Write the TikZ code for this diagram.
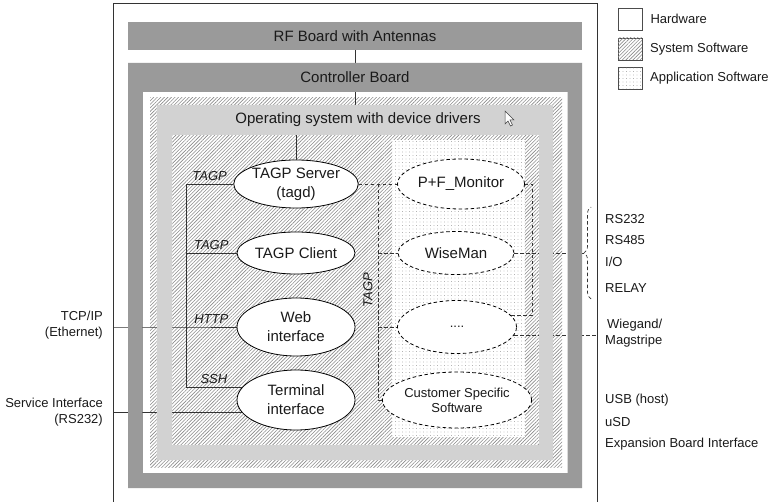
\documentclass[tikz,border=0pt]{standalone}
\usepackage{fontspec}
\setmainfont{Liberation Sans}
\usetikzlibrary{positioning,calc,shapes.geometric,patterns.meta,decorations.pathreplacing}
\definecolor{boardgray}{HTML}{9A9A9A}
\definecolor{osgray}{HTML}{D2D2D2}
\definecolor{hatchgray}{HTML}{8C8C8C}
\definecolor{dotgray}{HTML}{8A8A8A}
\definecolor{inkgray}{HTML}{1A1A1A}
\tikzset{
  board/.style={rectangle, fill=boardgray, inner sep=0pt, outer sep=0pt},
  syssw/.style={rectangle, fill=white, inner sep=0pt, outer sep=0pt,
                postaction={pattern={Lines[angle=45, distance=2.5pt, line width=0.6pt]}, pattern color=hatchgray}},
  appsw/.style={rectangle, fill=white, inner sep=0pt, outer sep=0pt,
                postaction={pattern={Dots[distance=3.5pt, radius=0.45pt]}, pattern color=dotgray}},
  bandtitle/.style={font=\fontsize{15}{17}\selectfont, text=inkgray, inner sep=0pt, outer sep=0pt},
  hwproc/.style={ellipse, draw=black, line width=0.8pt, fill=white, minimum width=118pt,
                 inner sep=0pt, align=center, text=inkgray, font=\fontsize{15}{19}\selectfont},
  approc/.style={hwproc, dash pattern=on 3.5pt off 2.5pt},
  link/.style={draw=black!80, line width=0.7pt},
  dlink/.style={link, dash pattern=on 3.5pt off 2.5pt},
  proto/.style={font=\fontsize{13}{15}\selectfont\itshape, text=inkgray},
  iface/.style={font=\fontsize{13}{16}\selectfont, text=inkgray, inner sep=0pt, anchor=west},
  legbox/.style={draw=black!70, line width=0.6pt, minimum width=24pt, minimum height=22pt},
}

\begin{document}
\begin{tikzpicture}[x=1pt,y=-1pt]
\useasboundingbox (0,0) rectangle (770,502);
\coordinate (lft) at (113,3);
\coordinate (rgt) at (597,3);
\draw[link] (113,502) -- (lft) -- (rgt) -- (597,502);

\node[board, bandtitle, minimum width=454pt, minimum height=28pt] (rf) at (355,36) {RF Board with Antennas};
\node[board, minimum width=454pt, minimum height=425pt] (ctrl) at (355,275.5) {};
\node[rectangle, fill=white, inner sep=0pt, minimum width=425pt, minimum height=381pt] (hw) at (355,282.5) {};
\node[syssw, minimum width=412pt, minimum height=369pt] (sys) at (356,282.5) {};
\node[rectangle, fill=osgray, inner sep=0pt, minimum width=396pt, minimum height=355pt] (os) at (355,282.5) {};
\node[syssw, minimum width=367pt, minimum height=310pt] (drv) at (355.5,290) {};
\node[appsw, minimum width=133pt, minimum height=297pt] (app) at (458.5,288.5) {};

\draw[link] (rf.south) -- (ctrl.north);
\draw[link] (hw.north) -- (os.north);

\coordinate (lbus) at (186,0);
\coordinate (abus) at (378,0);
\coordinate (rbus) at (532,0);
\coordinate (brtip) at (584,253);

\node[hwproc, minimum height=48pt] (srv) at (296,184) {TAGP Server\\(tagd)};
\node[hwproc, minimum height=42pt] (cli) at (296,253) {TAGP Client};
\node[hwproc, minimum height=58pt] (web) at (296,327) {Web\\interface};
\node[hwproc, minimum height=60pt] (term) at (296,400) {Terminal\\interface};
\node[approc, minimum width=127pt, minimum height=50pt] (pf) at (461,184) {P+F\_Monitor};
\node[approc, minimum width=116pt, minimum height=43pt] (wise) at (456,253) {WiseMan};
\node[approc, minimum width=119pt, minimum height=53pt, font=\fontsize{13}{15}\selectfont] (dots) at (457,327) {....};
\node[approc, minimum width=119pt, minimum height=56pt, font=\fontsize{13}{15}\selectfont] (cust) at (457,400) {Customer Specific\\Software};

\draw[link] (srv.north |- drv.north) -- (srv.north);
\draw[link] (srv.west) -- node[proto, above]{TAGP} (srv.west -| lbus) -- (term.167 -| lbus)
  -- node[proto, above]{SSH} (term.167);
\draw[link] (cli.west) -- node[proto, above]{TAGP} (cli.west -| lbus);
\draw[link] (web.west -| lft) -- (web.west -| lbus) -- node[proto, above]{HTTP} (web.west);
\draw[link] (term.193 -| lft) -- (term.193);

\draw[dlink] (srv.east) -- (pf.west);
\draw[dlink] (srv.east -| abus) -- (cust.west -| abus) -- (cust.west);
\draw[dlink] (wise.west -| abus) -- (wise.west);
\draw[dlink] (dots.west -| abus) -- (dots.west);
\draw[dlink] (pf.east) -- (pf.east -| rbus) -- (dots.12 -| rbus) -- (dots.12);
\draw[dlink] (wise.east) -- (brtip);
\draw[dlink] (dots.352) -- (dots.352 -| rgt);

\fill[boardgray, even odd rule] (ctrl.north west) rectangle (ctrl.south east) (hw.north west) rectangle (hw.south east);
\fill[osgray, even odd rule] (os.north west) rectangle (os.south east) (drv.north west) rectangle (drv.south east);
\node[bandtitle] (ctrlt) at (355,77.5) {Controller Board};
\node[bandtitle] (ost) at (358,120) {Operating system with device drivers};
\node[proto, rotate=90] (tagpv) at (368,290) {TAGP};
\draw[black!75, fill=white, line width=0.5pt] (505,111) -- ++(0,13) -- ++(3,-3) -- ++(2.5,5)
  -- ++(2,-1) -- ++(-2.5,-5) -- ++(4,0) -- cycle;

\draw[dlink, decorate, decoration={brace, amplitude=7pt}] (591,299) -- (591,207);

\node[iface] (rs232) at (605,219) {RS232};
\node[iface] (rs485) at (605,240) {RS485};
\node[iface] (io) at (605,262) {I/O};
\node[iface] (relay) at (605,288) {RELAY};
\node[iface, align=left] (wieg) at (605,333) {\hspace{2pt}Wiegand/\\Magstripe};
\node[iface] (usb) at (605,400) {USB (host)};
\node[iface] (usd) at (605,422) {uSD};
\node[iface] (exp) at (605,444) {Expansion Board Interface};
\node[iface, anchor=east, align=right] (tcp) at (103,325) {TCP/IP\\(Ethernet)};
\node[iface, anchor=east, align=right] (svc) at (103,412.5) {Service Interface\\(RS232)};

\node[legbox, fill=white] (leghw) at (630,19) {};
\node[syssw, legbox] (legsys) at (630,49) {};
\node[appsw, legbox] (legapp) at (630,78) {};
\node[iface, right=8pt of leghw] {Hardware};
\node[iface, right=8pt of legsys] {System Software};
\node[iface, right=8pt of legapp] {Application Software};
\end{tikzpicture}
\end{document}
